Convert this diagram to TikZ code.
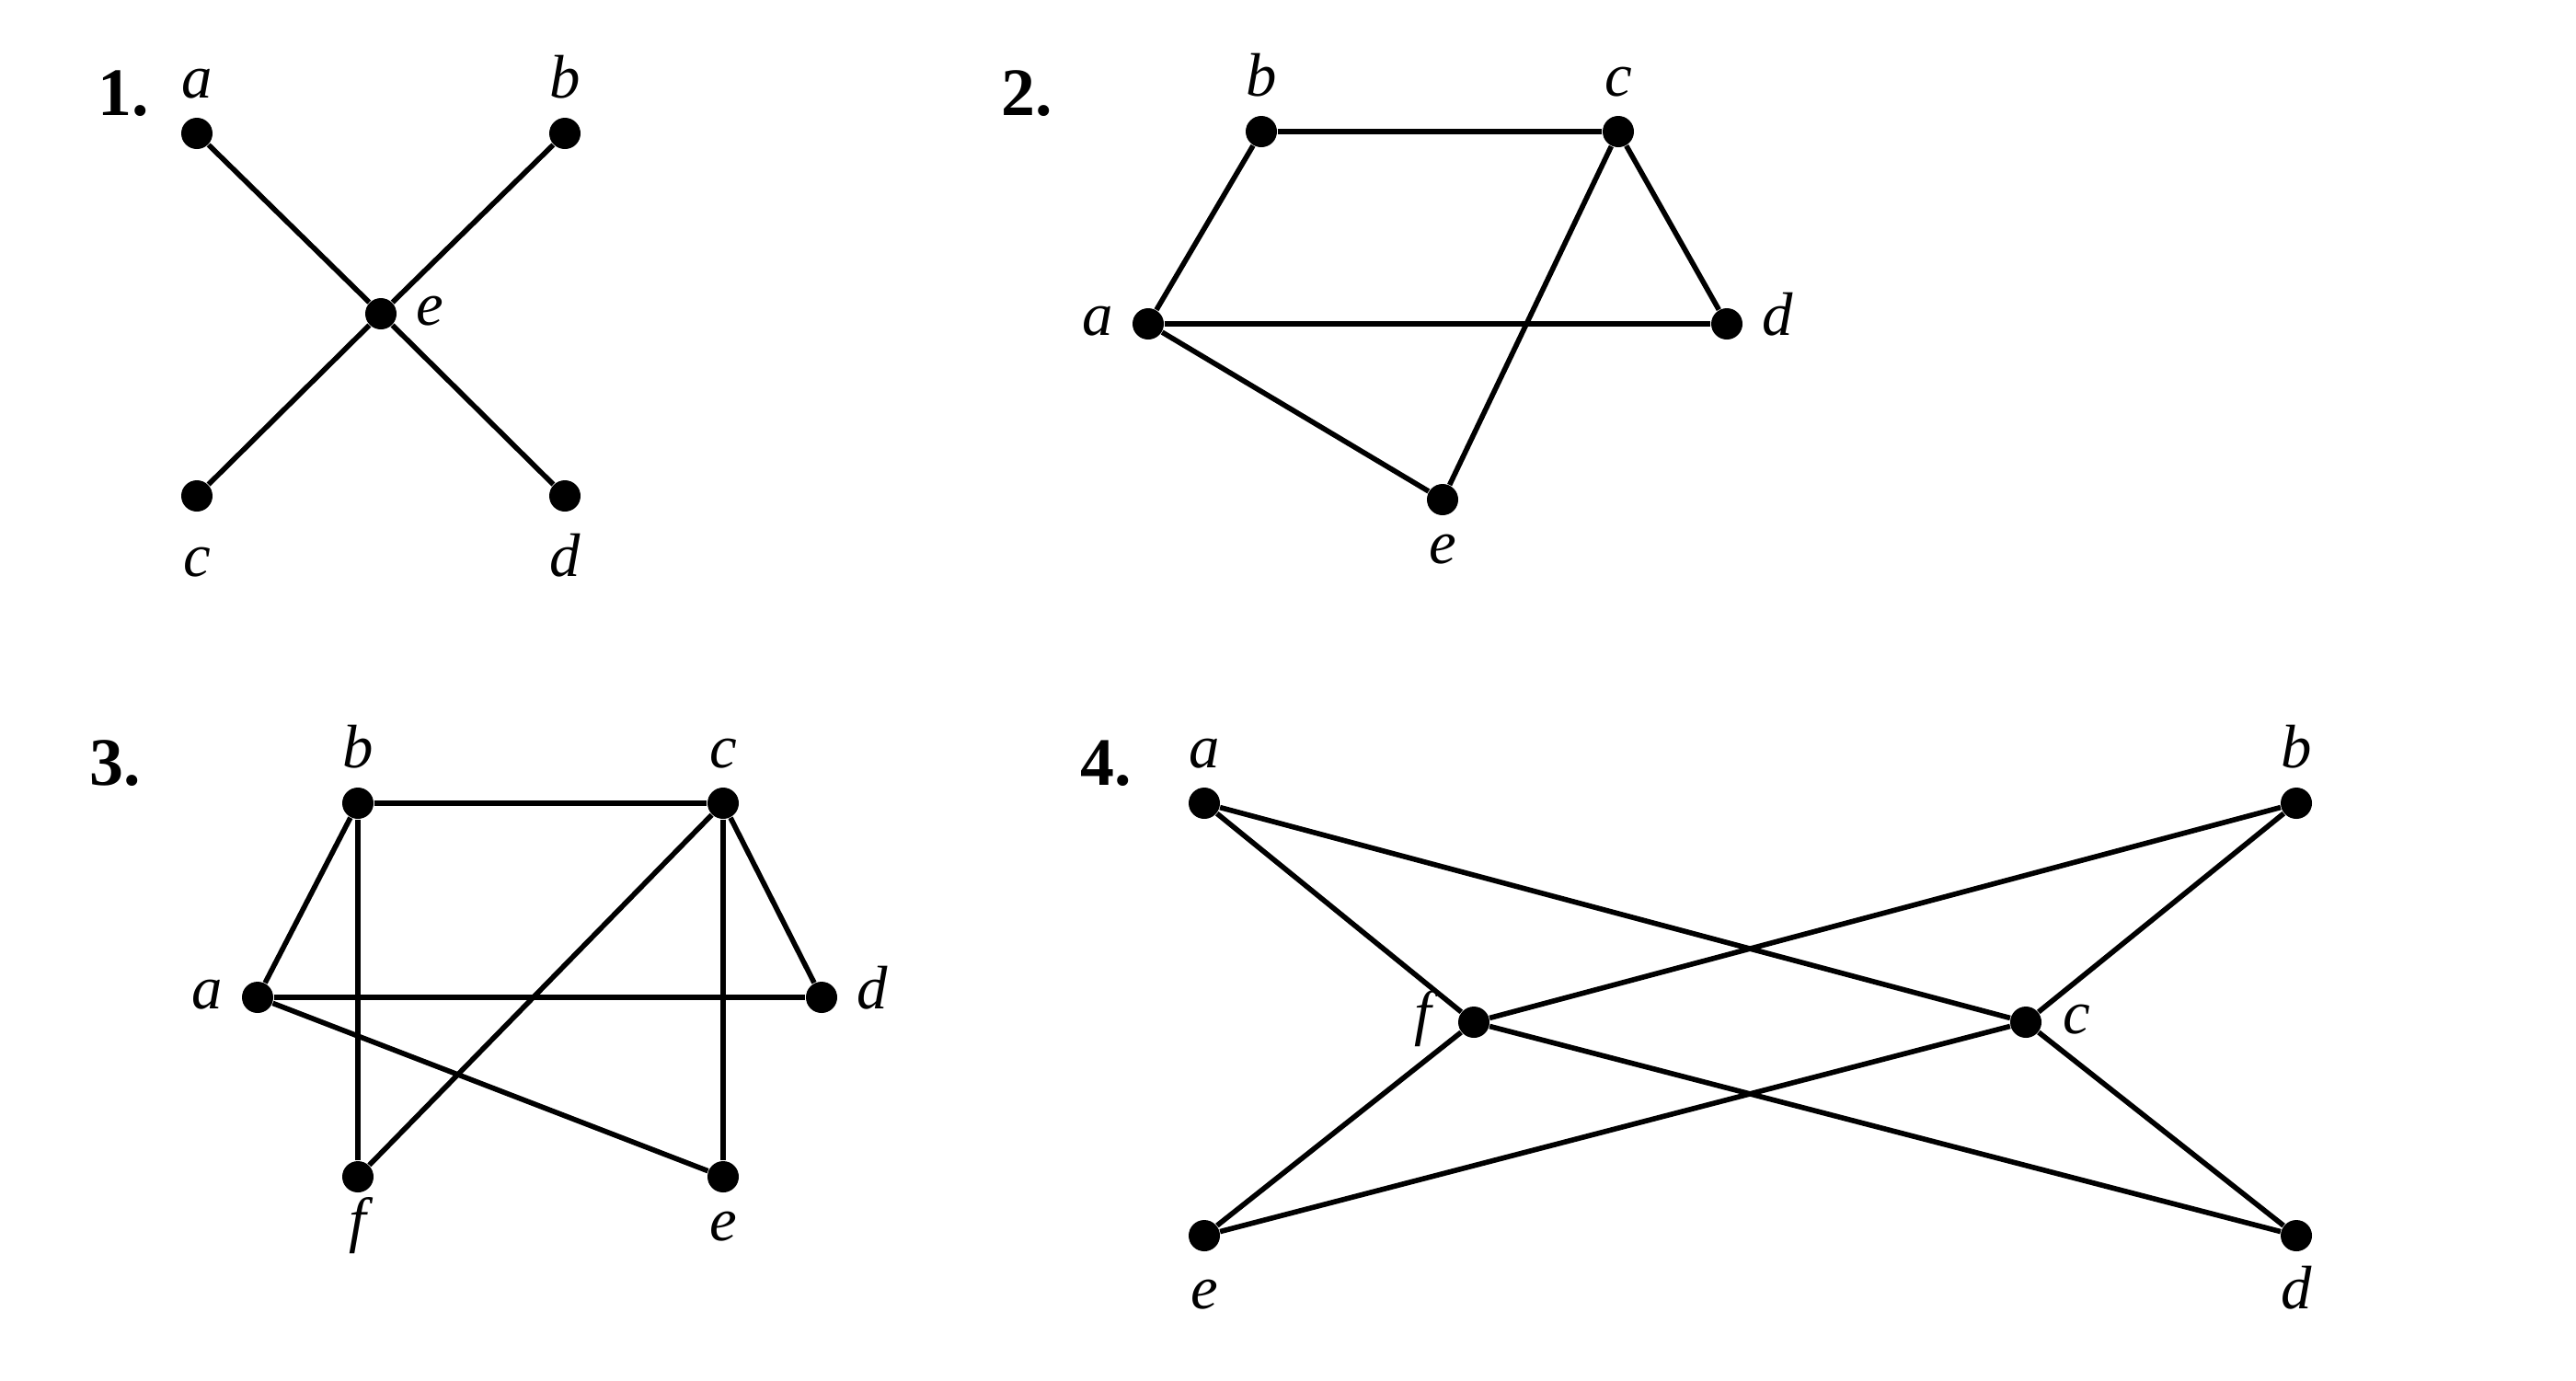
\documentclass[tikz,border=0pt]{standalone}
\usepackage{fontspec}
\setmainfont{Liberation Serif}
\usetikzlibrary{positioning}
\tikzset{
 vertex/.style={circle, fill=black, inner sep=0pt, minimum size=0.34cm},
 edge/.style={line width=1.6pt, draw=black},
 lbl/.style={inner sep=0pt, text height=0.7em, text depth=0pt, font=\fontsize{19}{22}\selectfont\itshape},
 num/.style={inner sep=0pt, font=\fontsize{21}{24}\selectfont\bfseries}
}
\begin{document}
\begin{tikzpicture}
\useasboundingbox (0,0) rectangle (28,-15);
% graph 1
\node[num] (n1) at (1.34,-1.02) {1.};
\node[vertex] (a1) at (2.14,-1.45) {};
\node[vertex] (b1) at (6.14,-1.45) {};
\node[vertex] (e1) at (4.14,-3.41) {};
\node[vertex] (c1) at (2.14,-5.39) {};
\node[vertex] (d1) at (6.14,-5.39) {};
\node[lbl, above=0.2cm of a1] (la1) {a};
\node[lbl, above=0.2cm of b1] (lb1) {b};
\node[lbl, right=0.2cm of e1] (le1) {e};
\node[lbl, below=0.44cm of c1] (lc1) {c};
\node[lbl, below=0.44cm of d1] (ld1) {d};
\foreach \u/\v in {a1/e1,b1/e1,c1/e1,d1/e1}{\draw[edge] (\u) -- (\v);}
% graph 2
\node[num] (n2) at (11.16,-1.02) {2.};
\node[vertex] (b2) at (13.71,-1.43) {};
\node[vertex] (c2) at (17.59,-1.43) {};
\node[vertex] (a2) at (12.48,-3.52) {};
\node[vertex] (d2) at (18.77,-3.52) {};
\node[vertex] (e2) at (15.68,-5.43) {};
\node[lbl, above=0.2cm of b2] (lb2) {b};
\node[lbl, above=0.2cm of c2] (lc2) {c};
\node[lbl, left=0.2cm of a2] (la2) {a};
\node[lbl, right=0.2cm of d2] (ld2) {d};
\node[lbl, below=0.26cm of e2] (le2) {e};
\foreach \u/\v in {b2/c2,a2/b2,c2/d2,a2/d2,a2/e2,c2/e2}{\draw[edge] (\u) -- (\v);}
% graph 3
\node[num] (n3) at (1.25,-8.30) {3.};
\node[vertex] (b3) at (3.89,-8.73) {};
\node[vertex] (c3) at (7.86,-8.73) {};
\node[vertex] (a3) at (2.80,-10.84) {};
\node[vertex] (d3) at (8.93,-10.84) {};
\node[vertex] (f3) at (3.89,-12.79) {};
\node[vertex] (e3) at (7.86,-12.79) {};
\node[lbl, above=0.2cm of b3] (lb3) {b};
\node[lbl, above=0.2cm of c3] (lc3) {c};
\node[lbl, left=0.2cm of a3] (la3) {a};
\node[lbl, right=0.2cm of d3] (ld3) {d};
\node[lbl, below=0.26cm of f3] (lf3) {f};
\node[lbl, below=0.26cm of e3] (le3) {e};
\foreach \u/\v in {b3/c3,a3/b3,c3/d3,a3/d3,b3/f3,c3/f3,c3/e3,a3/e3}{\draw[edge] (\u) -- (\v);}
% graph 4
\node[num] (n4) at (12.02,-8.30) {4.};
\node[vertex] (a4) at (13.09,-8.73) {};
\node[vertex] (b4) at (24.96,-8.73) {};
\node[vertex] (f4) at (16.02,-11.11) {};
\node[vertex] (c4) at (22.02,-11.11) {};
\node[vertex] (e4) at (13.09,-13.43) {};
\node[vertex] (d4) at (24.96,-13.43) {};
\node[lbl, above=0.2cm of a4] (la4) {a};
\node[lbl, above=0.2cm of b4] (lb4) {b};
\node[lbl, left=0.28cm of f4] (lf4) {f};
\node[lbl, right=0.22cm of c4] (lc4) {c};
\node[lbl, below=0.36cm of e4] (le4) {e};
\node[lbl, below=0.36cm of d4] (ld4) {d};
\foreach \u/\v in {a4/f4,a4/c4,b4/f4,b4/c4,f4/e4,f4/d4,c4/e4,c4/d4}{\draw[edge] (\u) -- (\v);}
\end{tikzpicture}
\end{document}
